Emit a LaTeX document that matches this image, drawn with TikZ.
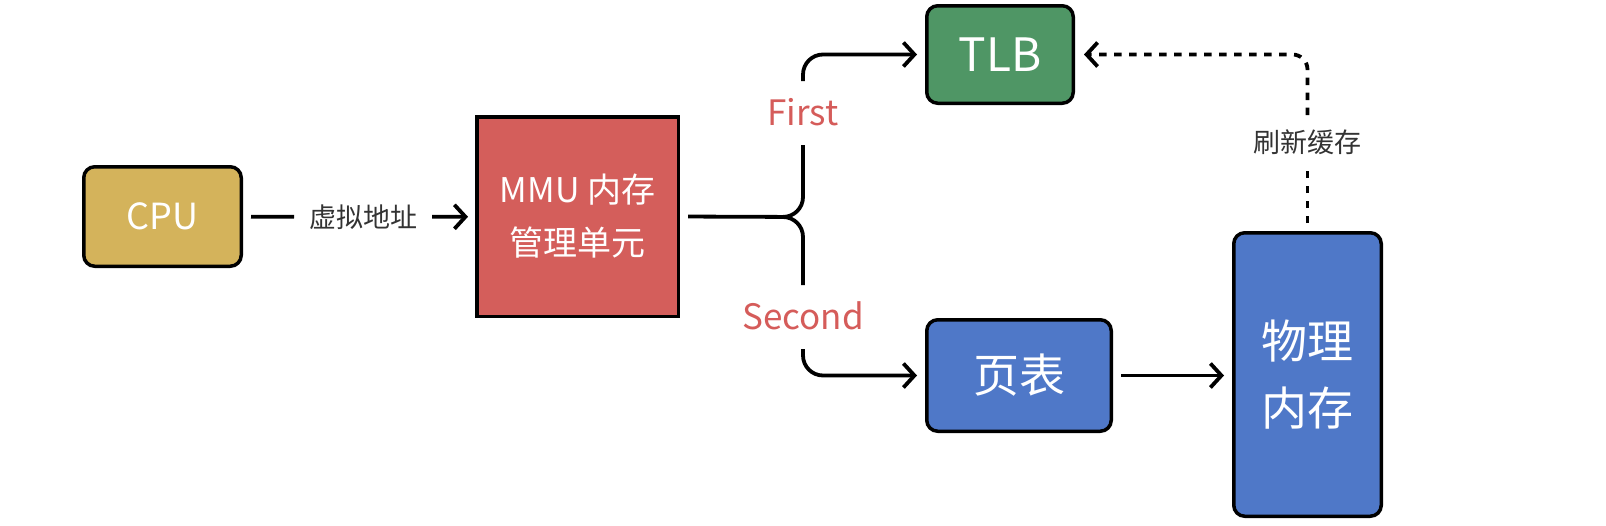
\documentclass[tikz,border=0pt]{standalone}
\usepackage{fontspec}
\setmainfont{Noto Sans CJK SC}
\usetikzlibrary{arrows.meta,calc}
\definecolor{cpuc}{HTML}{D4B35B}
\definecolor{mmuc}{HTML}{D45E5B}
\definecolor{tlbc}{HTML}{4F9665}
\definecolor{bluec}{HTML}{4F78C8}
\definecolor{labred}{HTML}{D55C5A}
\definecolor{labgray}{HTML}{333333}
\begin{document}
\begin{tikzpicture}[x=1pt,y=-1pt,
  box/.style={draw=black, line width=3.5pt, text=white, align=center, inner sep=0pt},
  rbox/.style={box, rounded corners=11pt},
  conn/.style={line width=3.8pt, draw=black},
  arr/.style={conn, -{Straight Barb[length=11pt,width=24pt]}},
  dashline/.style={dash pattern=on 7.5pt off 7.5pt},
  graylab/.style={text=labgray, inner sep=0pt, outer sep=0pt, font=\fontsize{27}{30}\selectfont},
  redlab/.style={text=labred, inner sep=0pt, outer sep=0pt, text height=25pt, text depth=0pt, minimum height=64pt, font=\fontsize{35}{40}\selectfont}
]
\useasboundingbox (0,0) rectangle (1606,525);

% boxes
\node[rbox, fill=cpuc, minimum width=157.5pt, minimum height=99.5pt, font=\fontsize{36}{40}\selectfont] (cpu) at (162.5,216.5) {CPU};
\node[box, fill=mmuc, minimum width=201.5pt, minimum height=199.5pt, font=\fontsize{34}{53}\selectfont] (mmu) at (577.5,216.5) {MMU 内存\\管理单元};
\node[rbox, fill=tlbc, minimum width=146.5pt, minimum height=97.5pt, font=\fontsize{46}{50}\selectfont] (tlb) at (1000,54.5) {TLB};
\node[rbox, fill=bluec, minimum width=184.5pt, minimum height=111.5pt, font=\fontsize{46}{50}\selectfont] (pt) at (1019,375.5) {页表};
\node[rbox, fill=bluec, minimum width=147.5pt, minimum height=283.5pt, font=\fontsize{46}{67}\selectfont] (pm) at (1307.5,374.5) {物理\\内存};

% labels
\node[graylab, minimum width=138pt] (vlab) at (363,217) {虚拟地址};
\node[graylab, minimum height=55pt] (rlab) at (1307.5,142.5) {刷新缓存};
\node[redlab] (first) at (803,113) {First};
\node[redlab] (second) at (803,317) {Second};

\coordinate (bj) at (803,217);
\coordinate (bt) at (780,217);

% connectors
\draw[conn, shorten <=8pt] (cpu) -- (vlab);
\draw[arr, shorten >=7pt] (vlab) -- (mmu);
\draw[conn, rounded corners=20pt, shorten <=8pt] (mmu.east) -- (bj) -- (first.south);
\draw[conn, rounded corners=20pt] (bt) -- (bj) -- (second.north);
\draw[arr, rounded corners=20pt, shorten >=8pt] (first.north) |- (tlb.west);
\draw[arr, rounded corners=20pt, shorten >=8pt] (second.south) |- (pt.west);
\draw[arr, shorten <=8pt, shorten >=8pt] (pt.east) -- (pt.east -| pm.west);
\draw[conn, dashline, shorten <=8pt] (pm.north) -- (rlab.south);
\draw[arr, dashline, rounded corners=15pt, shorten >=9pt] (rlab.north) |- (tlb.east);
\end{tikzpicture}
\end{document}
